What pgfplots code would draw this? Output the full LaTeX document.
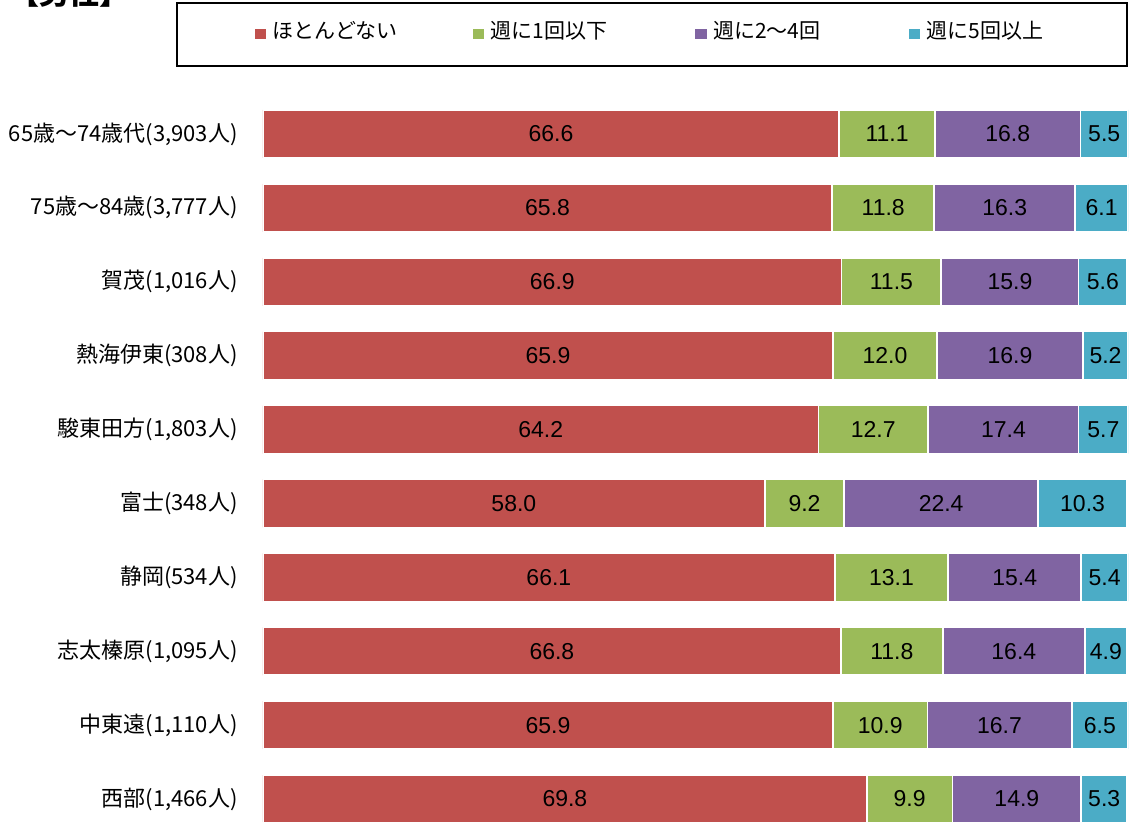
\documentclass[border=0pt]{standalone}
\usepackage{fontspec}
\setmainfont{Noto Sans CJK JP}
\newfontfamily\arial{Liberation Sans}
\usepackage{pgfplots}
\usepackage{pgfplotstable}
\pgfplotsset{compat=1.18}

\definecolor{c1}{HTML}{C0504D}
\definecolor{c2}{HTML}{9BBB59}
\definecolor{c3}{HTML}{8064A2}
\definecolor{c4}{HTML}{4BACC6}

% shares in percent, rows top to bottom
\pgfplotstableread{
cat a    b    c    d
0   66.6 11.1 16.8 5.5
1   65.8 11.8 16.3 6.1
2   66.9 11.5 15.9 5.6
3   65.9 12.0 16.9 5.2
4   64.2 12.7 17.4 5.7
5   58.0 9.2  22.4 10.3
6   66.1 13.1 15.4 5.4
7   66.8 11.8 16.4 4.9
8   65.9 10.9 16.7 6.5
9   69.8 9.9  14.9 5.3
}\data

\begin{document}
\begin{tikzpicture}
\useasboundingbox (0,0) rectangle (565.5pt,-410.5pt);
\node[anchor=base west, inner sep=0pt] at (4.75pt,-2.4pt)
  {\bfseries\fontsize{15pt}{15pt}\selectfont 【男性】};
\draw[line width=1pt] (88.5pt,-1.5pt) rectangle (563.5pt,-33pt);
\begin{axis}[
  at={(131.5pt,-48.5pt)}, anchor=north west,
  scale only axis, width=432.5pt, height=369.5pt,
  xbar stacked, bar width=24pt,
  xmin=0, xmax=100, ymin=-0.5, ymax=9.5, y dir=reverse,
  axis line style={draw=none},
  xtick=\empty, ytick={0,...,9},
  yticklabels={{65歳～74歳代(3,903人)},{75歳～84歳(3,777人)},{賀茂(1,016人)},{熱海伊東(308人)},{駿東田方(1,803人)},{富士(348人)},{静岡(534人)},{志太榛原(1,095人)},{中東遠(1,110人)},{西部(1,466人)}},
  major tick length=0pt,
  yticklabel style={anchor=east, inner sep=0pt, xshift=-12.5pt,
    font=\fontsize{11pt}{12pt}\selectfont},
  point meta=explicit,
  nodes near coords={\pgfmathprintnumber[fixed,fixed zerofill,precision=1,assume math mode=true]{\pgfplotspointmeta}},
  every node near coord/.append style={anchor=center,
    font=\arial\fontsize{11.5pt}{12pt}\selectfont, text=black},
  every axis plot/.append style={draw=white, line width=0.8pt},
  legend columns=4,
  legend image code/.code={\fill[#1] (0pt,-4.5pt) rectangle (6.5pt,1.5pt);},
  legend style={at={(-0.01156,1.0893)}, anchor=west, draw=none, fill=none,
    inner sep=0pt, column sep=0pt,
    font=\fontsize{10.5pt}{12pt}\selectfont,
    /tikz/every odd column/.append style={column sep=0.5pt}},
  legend cell align=left,
]
\addplot[fill=c1, forget plot] table[x=a, y=cat, meta=a] {\data};
\addplot[fill=c2, forget plot] table[x=b, y=cat, meta=b] {\data};
\addplot[fill=c3, forget plot] table[x=c, y=cat, meta=c] {\data};
\addplot[fill=c4, forget plot] table[x=d, y=cat, meta=d] {\data};
\addlegendimage{fill=c1}
\addlegendentry{\makebox[97pt][l]{ほとんどない}}
\addlegendimage{fill=c2}
\addlegendentry{\makebox[99.5pt][l]{週に1回以下}}
\addlegendimage{fill=c3}
\addlegendentry{\makebox[95pt][l]{週に2～4回}}
\addlegendimage{fill=c4}
\addlegendentry{週に5回以上}
\end{axis}
\end{tikzpicture}
\end{document}
